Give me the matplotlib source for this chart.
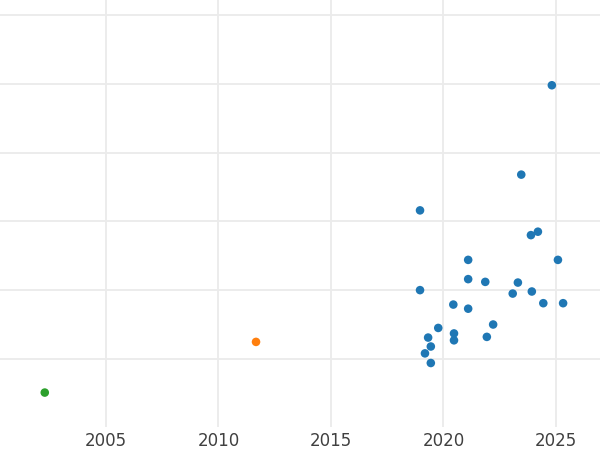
import matplotlib
matplotlib.use("Agg")
import matplotlib.pyplot as plt

# release year vs. score
blue_year = [2024.82, 2023.46, 2018.96, 2023.89, 2024.20, 2021.10, 2025.09,
             2021.10, 2021.86, 2023.31, 2018.96, 2023.93, 2023.08, 2020.44,
             2024.44, 2025.32, 2021.10, 2022.21, 2019.77, 2019.32, 2020.47,
             2019.44, 2020.47, 2021.93, 2019.18, 2019.44]
blue_score = [4.98, 3.68, 3.16, 2.80, 2.85, 2.44, 2.44,
              2.16, 2.12, 2.11, 2.00, 1.98, 1.95, 1.79,
              1.81, 1.81, 1.73, 1.50, 1.45, 1.31, 1.37,
              1.18, 1.27, 1.32, 1.08, 0.94]
orange_year = [2011.67]
orange_score = [1.247]
green_year = [2002.28]
green_score = [0.51]

x_ticks = [2005, 2010, 2015, 2020, 2025]
y_grid = [1, 2, 3, 4, 5, 6]

fig = plt.figure(figsize=(6, 4.5), dpi=100)
ax = fig.add_axes([0.0, 0.052, 1.0, 0.948])

ax.scatter(blue_year, blue_score, s=38, color="#1f77b4", edgecolors="none", zorder=3)
ax.scatter(orange_year, orange_score, s=38, color="#ff7f0e", edgecolors="none", zorder=3)
ax.scatter(green_year, green_score, s=38, color="#2ca02c", edgecolors="none", zorder=3)

ax.set_xlim(2000.29, 2026.96)
ax.set_ylim(0.015, 6.22)
ax.set_xticks(x_ticks)
ax.set_xticklabels([str(t) for t in x_ticks])
ax.set_yticks(y_grid)
ax.set_yticklabels([])

ax.grid(True, color="#ebebeb", linewidth=1.3)
ax.set_axisbelow(True)
for s in ax.spines.values():
    s.set_visible(False)
ax.tick_params(axis="both", length=0, labelsize=12, labelcolor="#404040", pad=4)

fig.savefig("out.png", dpi=100, facecolor="white")
